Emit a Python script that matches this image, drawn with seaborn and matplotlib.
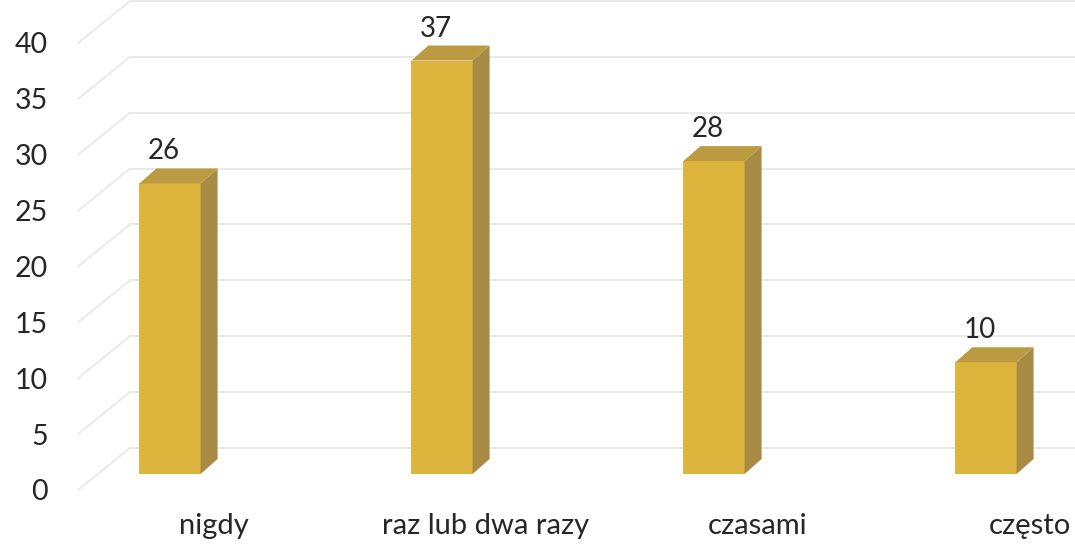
import matplotlib
matplotlib.use("Agg")
import matplotlib.pyplot as plt
import matplotlib.transforms as mtransforms
from matplotlib.patches import Polygon
import seaborn as sns
import numpy as np

# data
categories = ["nigdy", "raz lub dwa razy", "czasami", "często"]
values = [26, 37, 28, 10]
yticks = [0, 5, 10, 15, 20, 25, 30, 35, 40]

front_color = "#DDB43C"
side_color = "#A88B44"
top_color = "#BB9A42"
grid_color = "#E8E8E8"
text_color = "#262626"

sns.set_theme(style="white")
plt.rcParams["font.family"] = ["Lato", "DejaVu Sans"]

DPI = 100
W, H = 1075, 544
fig = plt.figure(figsize=(W / DPI, H / DPI), dpi=DPI)

# axes placed in pixels, y scale chosen so the front plane labels line up
ax_left = 62
ax = fig.add_axes([ax_left / W, 0, (W - ax_left) / W, 1])
px_per_cat = 272.0
px_per_unit = 11.175
first_center = 170
zero_px = 490  # pixel row (from top) of value 0 on the front plane

# depth of the 3D look, in pixels
lift_px = 16     # bar front face sits a bit behind the front plane
depth_dx, depth_dy = 17, 15  # bar depth
wall_dx, wall_dy = 52, 42    # back wall offset


def shift(dx_px, dy_px):
    return ax.transData + mtransforms.ScaledTranslation(dx_px / DPI, dy_px / DPI, fig.dpi_scale_trans)


sns.barplot(x=categories, y=values, color=front_color, width=0.225,
            saturation=1, ax=ax, zorder=3, linewidth=0)

# seaborn sets its own limits, so fix them afterwards
ax.set_xlim((ax_left - first_center) / px_per_cat, (W - first_center) / px_per_cat)
ax.set_ylim(-(H - zero_px) / px_per_unit, zero_px / px_per_unit)

# grid: diagonal on the side wall, then horizontal along the back wall
blend = mtransforms.blended_transform_factory(ax.transAxes, ax.transData)
x_front = (78 - ax_left) / (W - ax_left)
x_back = (78 + wall_dx - ax_left) / (W - ax_left)
wall_units = wall_dy / px_per_unit
for v in yticks:
    ax.plot([x_front, x_back], [v, v + wall_units], transform=blend,
            color=grid_color, lw=1.3, zorder=0)
    ax.plot([x_back, 1], [v + wall_units, v + wall_units], transform=blend,
            color=grid_color, lw=1.3, zorder=0)

dx_u = depth_dx / px_per_cat
dy_u = depth_dy / px_per_unit
tr = shift(0, lift_px)
for bar, val in zip(ax.patches, values):
    bar.set_transform(tr)
    x0 = bar.get_x()
    w = bar.get_width()
    h = bar.get_height()
    side = Polygon([(x0 + w, 0), (x0 + w + dx_u, dy_u), (x0 + w + dx_u, h + dy_u), (x0 + w, h)],
                   closed=True, facecolor=side_color, edgecolor="none", zorder=3, transform=tr)
    top = Polygon([(x0, h), (x0 + dx_u, h + dy_u), (x0 + w + dx_u, h + dy_u), (x0 + w, h)],
                  closed=True, facecolor=top_color, edgecolor="none", zorder=3, transform=tr)
    ax.add_patch(side)
    ax.add_patch(top)
    ax.text(x0 + w / 2, h, str(val), transform=shift(-6, lift_px + depth_dy + 4),
            ha="center", va="bottom", fontsize=20, color=text_color, zorder=4)

# category labels sit in front of the floor, pushed right by perspective
for i, cat in enumerate(categories):
    ax.text(i, 0, cat, transform=shift(44, -36), ha="center", va="center",
            fontsize=21, color=text_color)

ax.set_xticks([])
ax.set_yticks(yticks)
ax.set_yticklabels([str(t) for t in yticks], fontsize=20.5, color=text_color)
ax.tick_params(axis="y", length=0, pad=10)
ax.set_xlabel("")
ax.set_ylabel("")
for s in ax.spines.values():
    s.set_visible(False)
ax.set_facecolor("white")

fig.savefig("out.png", dpi=DPI, facecolor="white")
